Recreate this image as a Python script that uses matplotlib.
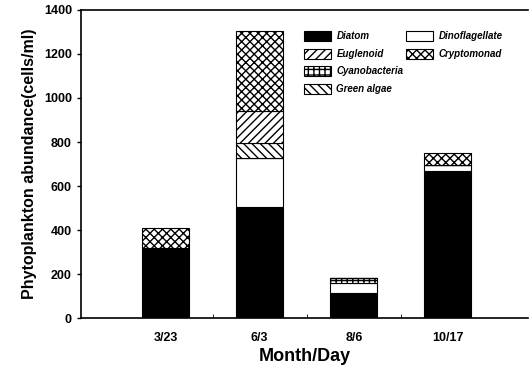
import matplotlib.pyplot as plt
from matplotlib.patches import Rectangle
import numpy as np

plt.rcParams['font.family'] = ['Liberation Sans', 'DejaVu Sans']
plt.rcParams['hatch.linewidth'] = 1.0

dates = ["3/23", "6/3", "8/6", "10/17"]
diatom = [320, 505, 112, 670]
dinoflagellate = [0, 222, 47, 25]
cyanobacteria = [0, 0, 21, 0]
green_algae = [0, 68, 0, 0]
euglenoid = [0, 146, 0, 0]
cryptomonad = [90, 363, 0, 55]

series = [
    ("Diatom", diatom, "black", ""),
    ("Dinoflagellate", dinoflagellate, "white", ""),
    ("Cyanobacteria", cyanobacteria, "white", "+++"),
    ("Green algae", green_algae, "white", "\\\\\\\\"),
    ("Euglenoid", euglenoid, "white", "////"),
    ("Cryptomonad", cryptomonad, "white", "xxxx"),
]

fig = plt.figure(figsize=(5.29, 3.70), dpi=100)
ax = fig.add_axes([0.153, 0.1405, 0.845, 0.8325])

x = np.arange(len(dates))
bottom = np.zeros(len(dates))
handles = {}
for name, vals, color, hatch in series:
    vals = np.array(vals, dtype=float)
    b = ax.bar(x, vals, 0.5, bottom=bottom, color=color, edgecolor="black",
               hatch=hatch, linewidth=0.8)
    handles[name] = b
    bottom += vals

# legend: first column holds 4 entries, second column 2 (padded with blanks)
blank = Rectangle((0, 0), 1, 1, visible=False)
order = ["Diatom", "Euglenoid", "Cyanobacteria", "Green algae",
         "Dinoflagellate", "Cryptomonad", "", ""]
hs = [handles[n] if n else blank for n in order]
leg = ax.legend(hs, order, ncol=2, loc="upper left",
                bbox_to_anchor=(0.48, 0.96), frameon=False,
                prop={"size": 7, "weight": "bold", "style": "italic"},
                handlelength=2.8, handleheight=1.2, columnspacing=0.3,
                labelspacing=0.75, handletextpad=0.5)

ax.set_xlim(-0.9, 3.85)
ax.set_ylim(0, 1400)
ax.set_yticks(np.arange(0, 1401, 200))
ax.set_xticks(x)
ax.set_xticklabels(dates, fontsize=9, fontweight="bold")
ax.set_xticks([0.5, 1.5, 2.5], minor=True)
ax.tick_params(axis="x", which="major", length=0, pad=10)
ax.tick_params(axis="x", which="minor", length=3, direction="in")
ax.tick_params(axis="y", length=3, labelsize=9, width=1)
for lbl in ax.get_yticklabels():
    lbl.set_fontweight("bold")

ax.spines["right"].set_visible(False)
for s in ["left", "top", "bottom"]:
    ax.spines[s].set_linewidth(1.2)

ax.set_ylabel("Phytoplankton abundance(cells/ml)", fontsize=11.5,
              fontweight="bold", labelpad=5)
ax.set_xlabel("Month/Day", fontsize=13, fontweight="bold", labelpad=3)

plt.savefig("out.png", dpi=100)
plt.close()
